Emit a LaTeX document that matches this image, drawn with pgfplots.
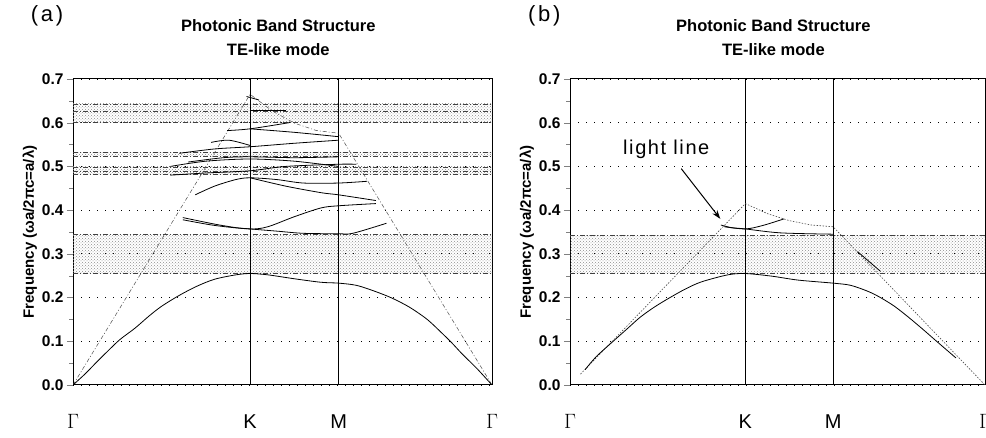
\documentclass[border=0pt]{standalone}
\usepackage{fontspec}
\setmainfont{Liberation Sans}
\usepackage{pgfplots}
\pgfplotsset{compat=1.18}
\usetikzlibrary{patterns,arrows.meta}

\tikzset{
 ttl/.style={font=\fontsize{16.5}{16.5}\selectfont\bfseries},
 plabel/.style={font=\fontsize{22}{22}\selectfont\addfontfeature{LetterSpace=12}},
}
\pgfplotsset{
 bandaxis/.style={
  scale only axis, width=419pt, height=306pt,
  xmin=0, xmax=2.366, ymin=0, ymax=0.7,
  clip mode=individual,
  xtick={0,1,1.5,2.366}, xticklabels={$\Gamma$,K,M,$\Gamma$},
  xtick style={draw=none},
  xticklabel style={font=\fontsize{20}{20}\selectfont, yshift=-20pt},
  ytick={0,0.1,0.2,0.3,0.4,0.5,0.6,0.7}, minor y tick num=1,
  ytick pos=left, tick align=outside,
  major tick length=6pt, minor tick length=4pt,
  yticklabel style={font=\fontsize{15.5}{15.5}\selectfont\bfseries, /pgf/number format/.cd, fixed, fixed zerofill, precision=1, assume math mode=true},
  ymajorgrids, grid style={black, line width=0.8pt, dash pattern=on 1pt off 7pt},
  axis line style={line width=1pt},
  ylabel={Frequency (ωa/2πc=a/λ)},
  ylabel style={font=\fontsize{15}{15}\selectfont\bfseries, yshift=-2pt},
  every axis plot/.append style={line width=0.8pt},
 },
 gapfill/.style={draw=none, pattern=crosshatch dots, pattern color=black!45},
 gapline/.style={black!75, line width=0.5pt, dash pattern=on 5pt off 2pt on 1pt off 2pt},
 band/.style={black, line width=0.8pt},
 light/.style={black!70, line width=0.5pt, dash pattern=on 4pt off 2pt on 1pt off 2pt},
 lightb/.style={black!70, line width=0.6pt, dash pattern=on 1.5pt off 1.5pt},
 symline/.style={black, line width=1pt},
}

\begin{document}
\begin{tikzpicture}
\useasboundingbox (0,0) rectangle (986pt,438pt);

% ---------------- panel (a) ----------------
\begin{axis}[bandaxis, at={(73pt,53pt)}, anchor=south west]
\addplot[gapfill] coordinates {(0,0.255)(2.366,0.255)(2.366,0.345)(0,0.345)} -- cycle;
\addplot[gapfill] coordinates {(0,0.481)(2.366,0.481)(2.366,0.499)(0,0.499)} -- cycle;
\addplot[gapfill] coordinates {(0,0.524)(2.366,0.524)(2.366,0.533)(0,0.533)} -- cycle;
\addplot[gapfill] coordinates {(0,0.600)(2.366,0.600)(2.366,0.643)(0,0.643)} -- cycle;
\addplot[gapline] coordinates {(0,0.255)(2.366,0.255)};
\addplot[gapline] coordinates {(0,0.345)(2.366,0.345)};
\addplot[gapline] coordinates {(0,0.481)(2.366,0.481)};
\addplot[gapline] coordinates {(0,0.490)(2.366,0.490)};
\addplot[gapline] coordinates {(0,0.499)(2.366,0.499)};
\addplot[gapline] coordinates {(0,0.524)(2.366,0.524)};
\addplot[gapline] coordinates {(0,0.533)(2.366,0.533)};
\addplot[gapline] coordinates {(0,0.600)(2.366,0.600)};
\addplot[gapline] coordinates {(0,0.627)(2.366,0.627)};
\addplot[gapline] coordinates {(0,0.643)(2.366,0.643)};
% symmetry points
\addplot[symline] coordinates {(1,0)(1,0.7)};
\addplot[symline] coordinates {(1.5,0)(1.5,0.7)};
% light line
\addplot[light] coordinates {(0,0)(1,0.665)(1.125,0.627)(1.25,0.599)(1.375,0.582)(1.5,0.576)(2.366,0)};
% bands
\addplot[band, smooth] coordinates {(0,0)(0.07,0.026)(0.135,0.053)(0.2,0.079)(0.265,0.104)(0.35,0.130)(0.43,0.158)(0.5,0.180)(0.6,0.205)(0.7,0.226)(0.8,0.242)(0.92,0.252)(1,0.255)(1.1,0.252)(1.25,0.243)(1.4,0.235)(1.5,0.233)(1.6,0.228)(1.7,0.215)(1.8,0.199)(1.9,0.178)(2.0,0.150)(2.085,0.118)(2.14,0.096)(2.2,0.07)(2.28,0.038)(2.366,0)};
\addplot[band, smooth] coordinates {(0.62,0.383)(0.8,0.368)(0.92,0.36)(1,0.357)(1.15,0.352)(1.3,0.347)(1.5,0.346)(1.58,0.347)(1.77,0.37)};
\addplot[band, smooth] coordinates {(0.62,0.378)(0.8,0.365)(1,0.357)(1.1,0.362)(1.25,0.385)(1.4,0.405)(1.5,0.41)(1.71,0.415)};
\addplot[band, smooth] coordinates {(0.69,0.435)(0.8,0.455)(0.92,0.47)(1,0.474)(1.15,0.47)(1.3,0.462)(1.5,0.462)(1.66,0.466)};
\addplot[band, smooth] coordinates {(1,0.474)(1.2,0.455)(1.4,0.44)(1.5,0.435)(1.71,0.422)};
\addplot[band, smooth] coordinates {(0.55,0.48)(0.75,0.485)(1,0.49)(1.2,0.5)(1.5,0.505)(1.6,0.505)};
\addplot[band, smooth] coordinates {(0.55,0.50)(0.75,0.512)(1,0.517)(1.25,0.512)(1.5,0.5)};
\addplot[band, smooth] coordinates {(0.65,0.51)(0.85,0.52)(1,0.522)(1.25,0.52)(1.5,0.522)};
\addplot[band, smooth] coordinates {(0.6,0.53)(0.8,0.54)(1,0.545)(1.25,0.553)(1.5,0.56)};
\addplot[band, smooth] coordinates {(0.78,0.555)(0.88,0.56)(1,0.548)};
\addplot[band, smooth] coordinates {(0.87,0.582)(1,0.586)(1.22,0.60)};
\addplot[band, smooth] coordinates {(1,0.586)(1.25,0.578)(1.5,0.568)};
\addplot[band] coordinates {(1,0.628)(1.2,0.628)};
\addplot[band] coordinates {(0.98,0.66)(1.05,0.652)};
\node[ttl] at (axis description cs:0.49,1.176) {Photonic Band Structure};
\node[ttl] at (axis description cs:0.49,1.095) {TE-like mode};
\node[plabel] at (axis description cs:-0.062,1.205) {(a)};
\end{axis}

% ---------------- panel (b) ----------------
\begin{axis}[bandaxis, width=415pt, at={(570pt,53pt)}, anchor=south west]
\addplot[gapfill] coordinates {(0,0.255)(2.366,0.255)(2.366,0.342)(0,0.342)} -- cycle;
\addplot[gapline] coordinates {(0,0.255)(2.366,0.255)};
\addplot[gapline] coordinates {(0,0.342)(2.366,0.342)};
\addplot[symline] coordinates {(1,0)(1,0.7)};
\addplot[symline] coordinates {(1.5,0)(1.5,0.7)};
% light line
\addplot[lightb] coordinates {(0.06,0.025)(1,0.415)(1.125,0.392)(1.25,0.376)(1.375,0.366)(1.5,0.362)(2.366,0)};
% bands
\addplot[band, smooth] coordinates {(0.086,0.035)(0.15,0.065)(0.246,0.1)(0.33,0.13)(0.4,0.155)(0.48,0.178)(0.57,0.2)(0.66,0.22)(0.75,0.236)(0.9,0.252)(1,0.255)(1.15,0.249)(1.3,0.24)(1.5,0.233)(1.6,0.228)(1.7,0.214)(1.77,0.2)(1.85,0.18)(1.93,0.155)(2.01,0.128)(2.09,0.1)(2.2,0.062)};
\addplot[band, smooth] coordinates {(0.86,0.366)(0.92,0.36)(1,0.357)(1.2,0.348)(1.5,0.345)};
\addplot[band, smooth] coordinates {(0.88,0.362)(1,0.357)(1.1,0.365)(1.22,0.38)};
\addplot[band] coordinates {(1.64,0.305)(1.77,0.26)};
\draw[-{Stealth[length=9pt,width=6pt]}, line width=1pt] (axis cs:0.634,0.495) -- (axis cs:0.857,0.38);
\node[font=\fontsize{20}{20}\selectfont\addfontfeature{LetterSpace=8}] at (axis cs:0.549,0.538) {light line};
\node[ttl] at (axis description cs:0.49,1.176) {Photonic Band Structure};
\node[ttl] at (axis description cs:0.49,1.095) {TE-like mode};
\node[plabel] at (axis description cs:-0.062,1.205) {(b)};
\end{axis}
\end{tikzpicture}
\end{document}
